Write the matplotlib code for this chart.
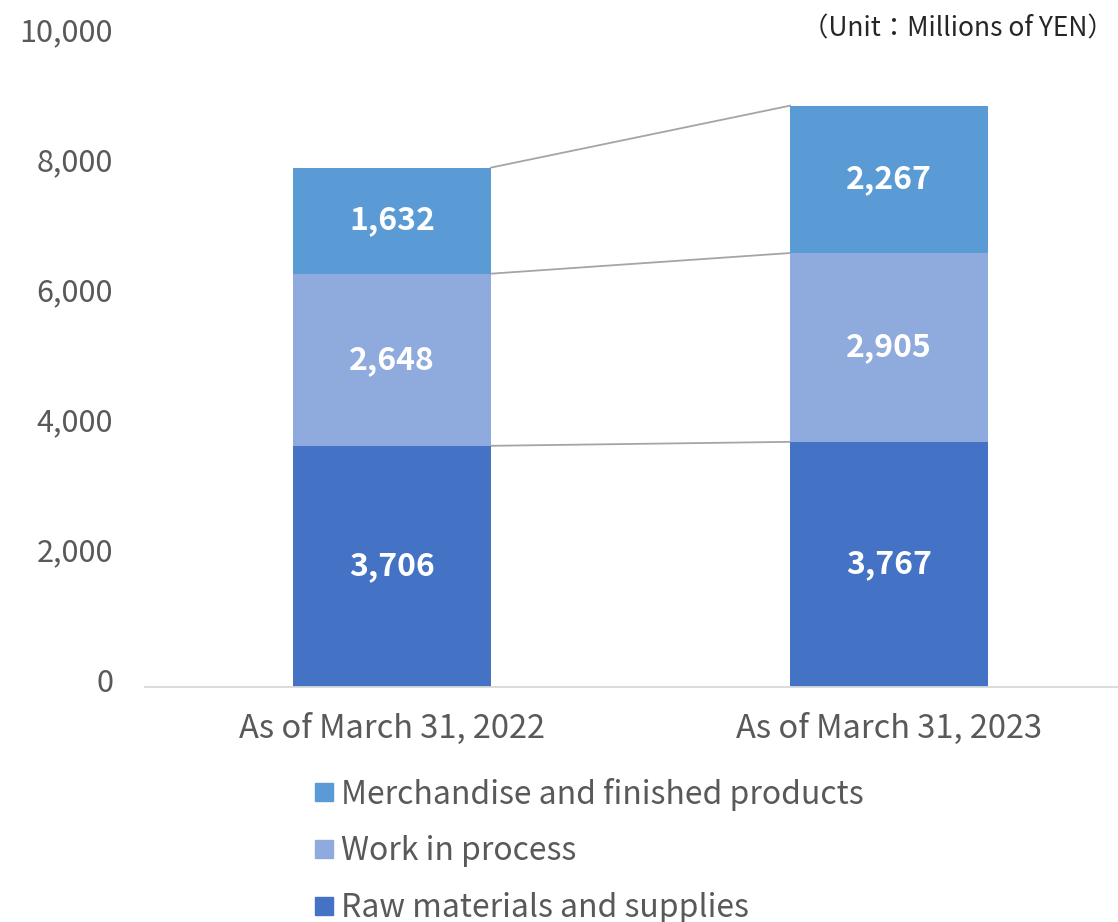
import matplotlib.pyplot as plt
import matplotlib.transforms as mtransforms
import numpy as np
from matplotlib.patches import Rectangle

categories = ["As of March 31, 2022", "As of March 31, 2023"]
raw_materials = [3706, 3767]
work_in_process = [2648, 2905]
merchandise = [1632, 2267]
yticks = [0, 2000, 4000, 6000, 8000, 10000]

plt.rcParams["font.family"] = ["Noto Sans CJK JP", "DejaVu Sans"]
gray = "#595959"
colors = {"raw": "#4472C4", "wip": "#8FAADC", "merch": "#5B9BD5"}

W, H = 1118, 922
fig = plt.figure(figsize=(W / 100, H / 100), dpi=100)
ax = fig.add_axes([145 / W, (H - 686.7) / H, 973 / W, 650 / H])

x = np.arange(len(categories))
width = 0.398
series = [
    ("Raw materials and supplies", raw_materials, colors["raw"]),
    ("Work in process", work_in_process, colors["wip"]),
    ("Merchandise and finished products", merchandise, colors["merch"]),
]
bottom = np.zeros(len(categories))
tops = []
for name, vals, col in series:
    vals = np.array(vals, dtype=float)
    ax.bar(x, vals, width, bottom=bottom, color=col, label=name, zorder=2)
    for xi, b, v in zip(x, bottom, vals):
        ax.text(xi, b + v / 2, f"{int(v):,}", ha="center", va="center",
                color="white", fontsize=23, fontweight="bold", zorder=3)
    bottom = bottom + vals
    tops.append(bottom.copy())

# series lines between the bars
for t in tops:
    ax.plot([x[0] + width / 2, x[1] - width / 2], [t[0], t[1]],
            color="#A5A5A5", lw=1.3, zorder=1)

ax.set_xlim(-0.497, 1.461)
ax.set_ylim(0, 10000)
ax.set_yticks(yticks)
ax.set_yticklabels([f"{v:,}" for v in yticks])
ax.set_xticks(x)
ax.set_xticklabels(categories)
ax.tick_params(axis="both", length=0, colors=gray)
ax.tick_params(axis="y", pad=23, labelsize=22)
ax.tick_params(axis="x", pad=19, labelsize=23.5)
# nudge the value labels up a little, like the original
shift = mtransforms.ScaledTranslation(0, 7 / 100, fig.dpi_scale_trans)
for lbl in ax.get_yticklabels():
    lbl.set_transform(lbl.get_transform() + shift)
for s in ["top", "right", "left"]:
    ax.spines[s].set_visible(False)
ax.spines["bottom"].set_color("#D9D9D9")
ax.spines["bottom"].set_linewidth(1.3)

fig.text(1114 / W, 1 - 29 / H, "（Unit：Millions of YEN）", ha="right",
         va="center", color="#262626", fontsize=19)

# legend, drawn in reverse series order
legend_rows = [792, 849, 906]
for (name, _, col), yc in zip(series[::-1], legend_rows):
    fig.patches.append(Rectangle((315 / W, 1 - (yc + 9) / H), 18 / W, 18 / H,
                                 transform=fig.transFigure, color=col))
    fig.text(341 / W, 1 - (yc + 2) / H, name, ha="left", va="center",
             color=gray, fontsize=23)

fig.savefig("out.png", dpi=100)
